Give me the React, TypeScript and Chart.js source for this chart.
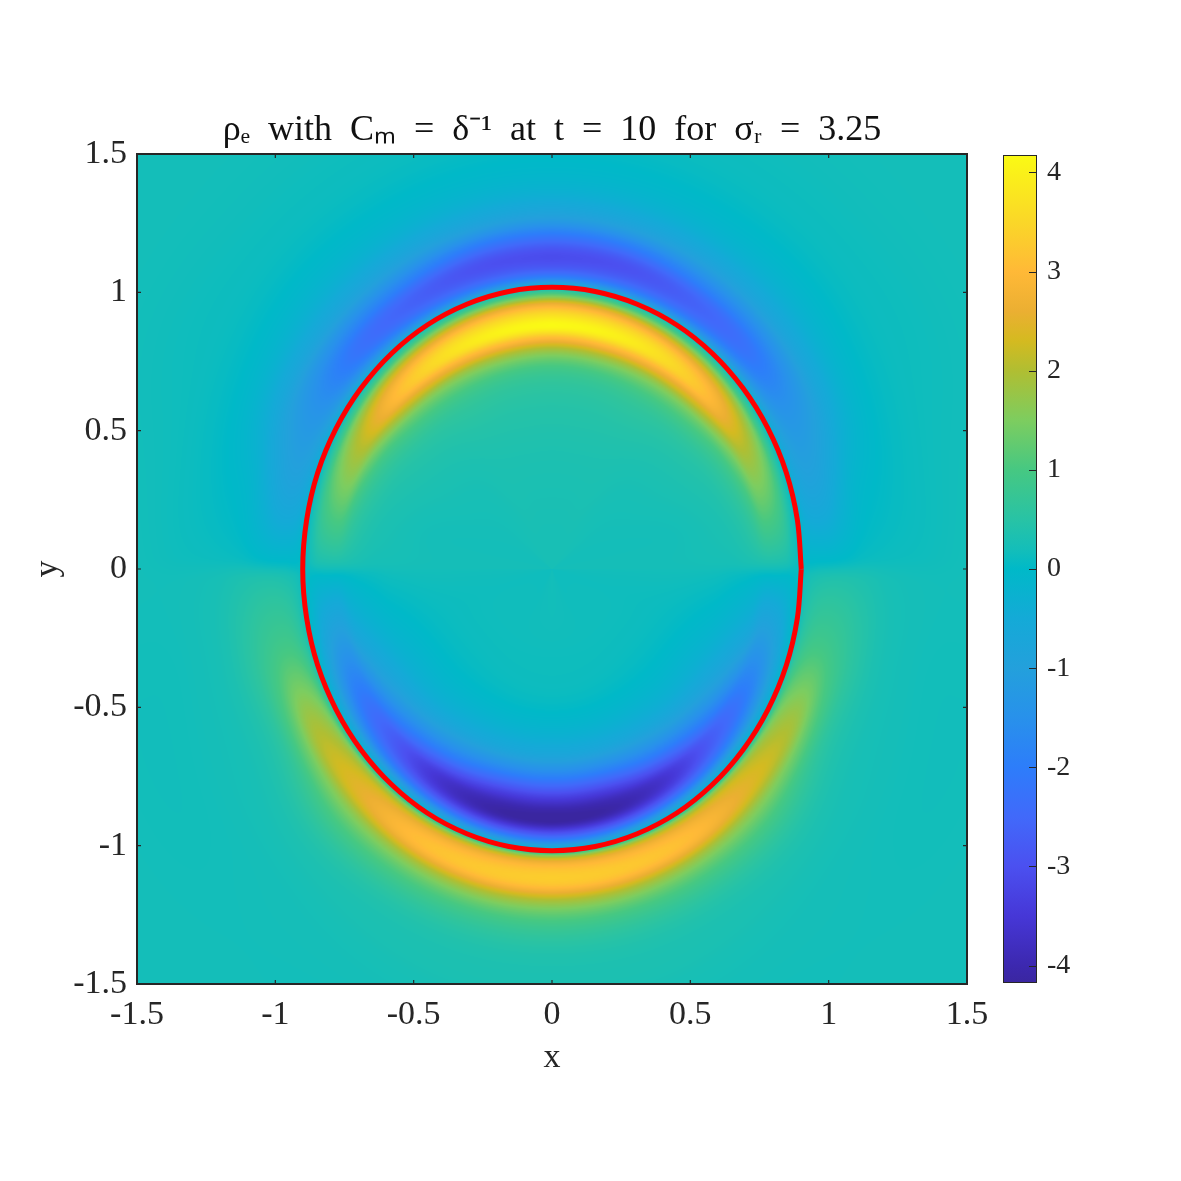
import React, { useEffect, useRef } from "react";
import { Chart, registerables } from "chart.js";

Chart.register(...registerables);

// ---------- data ----------
const titleText = "ρₑ  with  Cₘ  =  δ⁻¹  at  t  =  10  for  σᵣ  =  3.25";
const fieldTicks = [-1.5, -1, -0.5, 0, 0.5, 1, 1.5];
const barTicks = [-4, -3, -2, -1, 0, 1, 2, 3, 4];
const barRange = [-4.175, 4.175];

// interface curve (closed)
const ellipseX = [0.901,0.887,0.847,0.780,0.690,0.579,0.451,0.308,0.156,0,-0.156,-0.308,-0.451,-0.579,-0.690,-0.780,-0.847,-0.887,-0.901,-0.887,-0.847,-0.780,-0.690,-0.579,-0.451,-0.308,-0.156,0,0.156,0.308,0.451,0.579,0.690,0.780,0.847,0.887,0.901];
const ellipseY = [0,0.177,0.348,0.509,0.654,0.780,0.882,0.957,1.003,1.018,1.003,0.957,0.882,0.780,0.654,0.509,0.348,0.177,0,-0.177,-0.348,-0.509,-0.654,-0.780,-0.882,-0.957,-1.003,-1.018,-1.003,-0.957,-0.882,-0.780,-0.654,-0.509,-0.348,-0.177,0];

// field samples: angle from +y (deg, mirrored in x) against radius relative to the interface
const sampleAngle = [0, 15, 30, 45, 60, 75, 88, 92, 105, 120, 135, 150, 165, 180];
const sampleRadius = [0, 0.3, 0.5, 0.65, 0.72, 0.78, 0.82, 0.86, 0.9, 0.94, 0.97, 1.0, 1.03, 1.07, 1.12, 1.18, 1.25, 1.35, 1.5, 1.7, 2.0, 2.4];
const rhoAt0 = [0.25,0.3,0.4,0.6,1.0,1.9,3.0,4.15,3.7,2.7,1.4,0,-1.7,-2.8,-3.05,-2.2,-1.0,-0.25,0.05,0.15,0.2,0.2];
const rhoAt15 = [0.25,0.3,0.4,0.6,1.0,1.9,3.0,4.0,3.6,2.6,1.3,-0.1,-1.7,-2.7,-2.95,-2.1,-0.95,-0.25,0.05,0.15,0.2,0.2];
const rhoAt30 = [0.25,0.3,0.38,0.6,0.95,1.7,2.7,3.6,3.4,2.4,1.2,-0.1,-1.6,-2.5,-2.6,-1.8,-0.9,-0.25,0.05,0.15,0.2,0.2];
const rhoAt45 = [0.25,0.25,0.32,0.5,0.8,1.4,2.2,3.0,2.9,2.1,1.0,-0.1,-1.3,-2.1,-2.2,-1.6,-0.8,-0.25,0.05,0.15,0.2,0.2];
const rhoAt60 = [0.2,0.22,0.28,0.4,0.55,0.9,1.4,2.0,2.0,1.5,0.7,-0.1,-0.9,-1.3,-1.35,-1.1,-0.6,-0.15,0.08,0.15,0.2,0.2];
const rhoAt75 = [0.2,0.2,0.22,0.3,0.38,0.55,0.8,1.2,1.2,0.9,0.4,-0.1,-0.6,-0.8,-0.75,-0.45,-0.15,0,0.12,0.18,0.2,0.2];
const rhoAt88 = [0.22,0.22,0.22,0.24,0.25,0.3,0.35,0.4,0.4,0.35,0.2,0.05,-0.05,-0.05,-0.05,0,0.08,0.12,0.15,0.2,0.2,0.2];
const rhoAt92 = [0.18,0.18,0.18,0.15,0.1,0.05,0,-0.05,-0.05,-0.05,0,0.1,0.25,0.35,0.4,0.4,0.35,0.25,0.2,0.2,0.2,0.2];
const rhoAt105 = [0.15,0.15,0.1,-0.05,-0.2,-0.4,-0.6,-1.0,-1.0,-0.7,-0.3,0.1,0.6,0.9,0.95,0.8,0.55,0.3,0.2,0.18,0.2,0.2];
const rhoAt120 = [0.15,0.15,0.05,-0.25,-0.55,-1.0,-1.5,-2.0,-2.0,-1.4,-0.7,0.1,1.3,1.8,1.85,1.2,0.6,0.32,0.22,0.18,0.2,0.2];
const rhoAt135 = [0.15,0.15,0.03,-0.35,-0.85,-1.6,-2.2,-2.8,-2.7,-2.0,-1.0,0.1,1.8,2.4,2.4,1.6,0.95,0.45,0.25,0.2,0.2,0.2];
const rhoAt150 = [0.15,0.15,0.02,-0.5,-1.2,-2.1,-2.9,-3.6,-3.5,-2.5,-1.3,0.1,2.0,2.9,2.95,1.8,1.0,0.45,0.28,0.2,0.2,0.2];
const rhoAt165 = [0.18,0.15,0.02,-0.6,-1.5,-2.6,-3.4,-4.0,-4.0,-2.8,-1.5,0.15,2.2,3.1,3.15,1.9,1.0,0.45,0.3,0.2,0.2,0.2];
const rhoAt180 = [0.2,0.15,0.02,-0.65,-1.6,-2.7,-3.5,-4.1,-4.15,-2.9,-1.6,0.2,2.3,3.2,3.2,1.9,1.0,0.45,0.3,0.2,0.2,0.2];
const fieldRows = [rhoAt0,rhoAt15,rhoAt30,rhoAt45,rhoAt60,rhoAt75,rhoAt88,rhoAt92,rhoAt105,rhoAt120,rhoAt135,rhoAt150,rhoAt165,rhoAt180];

// colour bar read-off
const colorValues = [-4.175,-4,-3.5,-3,-2.5,-2,-1.5,-1,-0.5,0,0.2,0.5,1,1.5,2,2.3,2.6,3,3.5,4.175];
const colorRGB = [[58,38,160],[60,40,175],[70,55,215],[75,80,240],[65,105,250],[45,125,250],[40,145,235],[35,160,220],[20,170,215],[0,185,200],[20,190,185],[40,195,165],[70,200,130],[125,205,95],[176,190,50],[212,186,32],[235,175,50],[255,185,55],[250,215,40],[250,250,20]];

const INK = "#262626";
const SERIF = "'Liberation Serif', serif";
const PLOT = { left: 137, right: 967, top: 154, bottom: 984 };

function colorAt(v: number): number[] {
  const n = colorValues.length;
  if (v <= colorValues[0]) return colorRGB[0];
  if (v >= colorValues[n - 1]) return colorRGB[n - 1];
  let i = 0;
  while (colorValues[i + 1] < v) i++;
  const t = (v - colorValues[i]) / (colorValues[i + 1] - colorValues[i]);
  return colorRGB[i].map((c, k) => c + (colorRGB[i + 1][k] - c) * t);
}

function segment(xs: number[], x: number): number {
  let i = 0;
  while (i < xs.length - 2 && xs[i + 1] < x) i++;
  return i;
}

function hermite(xs: number[], i: number, x: number, y: (k: number) => number): number {
  const n = xs.length;
  const h = xs[i + 1] - xs[i];
  const t = Math.min(1, Math.max(0, (x - xs[i]) / h));
  const y0 = y(i), y1 = y(i + 1);
  const m0 = i > 0 ? (y1 - y(i - 1)) / (xs[i + 1] - xs[i - 1]) : (y1 - y0) / h;
  const m1 = i < n - 2 ? (y(i + 2) - y0) / (xs[i + 2] - xs[i]) : (y1 - y0) / h;
  const t2 = t * t, t3 = t2 * t;
  return (2 * t3 - 3 * t2 + 1) * y0 + (t3 - 2 * t2 + t) * h * m0 + (-2 * t3 + 3 * t2) * y1 + (t3 - t2) * h * m1;
}

const semiX = Math.max(...ellipseX);
const semiY = Math.max(...ellipseY);

function fieldAt(x: number, y: number): number {
  const u = Math.abs(x) / semiX, w = y / semiY;
  const r = Math.hypot(u, w);
  const ang = (Math.atan2(u, w) * 180) / Math.PI;
  const ri = segment(sampleRadius, r);
  const ai = segment(sampleAngle, ang);
  return hermite(sampleAngle, ai, ang, (k) => hermite(sampleRadius, ri, r, (c) => fieldRows[k][c]));
}

const heatPlugin = {
  id: "heat",
  beforeDatasetsDraw(chart: any) {
    const { left, top, right, bottom } = chart.chartArea;
    const xs = chart.scales.x, ys = chart.scales.y;
    const w = Math.round(right - left), h = Math.round(bottom - top);
    const off = document.createElement("canvas");
    off.width = w; off.height = h;
    const oc = off.getContext("2d")!;
    const img = oc.createImageData(w, h);
    const lut: number[][] = [];
    for (let i = 0; i <= 1000; i++) lut.push(colorAt(barRange[0] + ((barRange[1] - barRange[0]) * i) / 1000));
    for (let j = 0; j < h; j++) {
      const yv = ys.getValueForPixel(top + j + 0.5);
      for (let i = 0; i < w; i++) {
        const xv = xs.getValueForPixel(left + i + 0.5);
        const v = fieldAt(xv, yv);
        const q = Math.max(0, Math.min(1000, Math.round(((v - barRange[0]) / (barRange[1] - barRange[0])) * 1000)));
        const c = lut[q];
        const p = (j * w + i) * 4;
        img.data[p] = c[0]; img.data[p + 1] = c[1]; img.data[p + 2] = c[2]; img.data[p + 3] = 255;
      }
    }
    oc.putImageData(img, 0, 0);
    chart.ctx.drawImage(off, left, top);
  },
};

const framePlugin = {
  id: "frame",
  afterDraw(chart: any) {
    const { left, top, right, bottom } = chart.chartArea;
    const ctx = chart.ctx;
    ctx.save();
    ctx.strokeStyle = INK;
    ctx.lineWidth = 1.2;
    ctx.beginPath();
    chart.scales.x.ticks.forEach((_: any, i: number) => {
      const p = chart.scales.x.getPixelForTick(i);
      ctx.moveTo(p, bottom); ctx.lineTo(p, bottom - 4);
      ctx.moveTo(p, top); ctx.lineTo(p, top + 4);
    });
    chart.scales.y.ticks.forEach((_: any, i: number) => {
      const p = chart.scales.y.getPixelForTick(i);
      ctx.moveTo(left, p); ctx.lineTo(left + 4, p);
      ctx.moveTo(right, p); ctx.lineTo(right - 4, p);
    });
    ctx.stroke();
    ctx.lineWidth = 2;
    ctx.strokeRect(left, top, right - left, bottom - top);
    ctx.restore();
  },
};

const barFramePlugin = {
  id: "barFrame",
  afterDraw(chart: any) {
    const { left, top, right, bottom } = chart.chartArea;
    const ctx = chart.ctx;
    ctx.save();
    ctx.strokeStyle = INK;
    ctx.lineWidth = 1;
    ctx.beginPath();
    chart.scales.y.ticks.forEach((_: any, i: number) => {
      const p = Math.round(chart.scales.y.getPixelForTick(i)) + 0.5;
      ctx.moveTo(right, p); ctx.lineTo(right - 8, p);
    });
    ctx.stroke();
    ctx.strokeRect(left + 0.5, top + 0.5, right - left - 1, bottom - top - 1);
    ctx.restore();
  },
};

export default function App() {
  const mainRef = useRef<HTMLCanvasElement>(null);
  const barRef = useRef<HTMLCanvasElement>(null);

  useEffect(() => {
    const main = new Chart(mainRef.current!, {
      type: "scatter",
      plugins: [heatPlugin, framePlugin],
      data: {
        datasets: [{
          label: "interface",
          data: ellipseX.map((x, i) => ({ x, y: ellipseY[i] })),
          showLine: true,
          tension: 0.33,
          borderColor: "#ff0000",
          borderWidth: 5,
          pointRadius: 0,
          fill: false,
        }],
      },
      options: {
        responsive: false,
        animation: false,
        layout: { padding: { left: 0, right: 1181 - PLOT.right, top: 0, bottom: 0 } },
        plugins: {
          legend: { display: false },
          tooltip: { enabled: false },
          title: {
            display: true,
            fullSize: false,
            text: titleText,
            color: "#111",
            font: { family: SERIF, size: 36, weight: "normal", lineHeight: 1 },
            padding: { top: 113, bottom: 5 },
          },
        },
        scales: {
          x: {
            type: "linear", min: -1.5, max: 1.5,
            afterBuildTicks: (s: any) => { s.ticks = fieldTicks.map((value) => ({ value })); },
            afterFit: (s: any) => { s.height = 1181 - PLOT.bottom; },
            grid: { display: false },
            border: { display: false },
            ticks: { color: INK, padding: 3, maxRotation: 0, autoSkip: false, font: { family: SERIF, size: 34 }, callback: (v: any) => String(v) },
            title: { display: true, text: "x", color: INK, font: { family: SERIF, size: 34 }, padding: { top: 0, bottom: 103 } },
          },
          y: {
            type: "linear", min: -1.5, max: 1.5,
            afterBuildTicks: (s: any) => { s.ticks = fieldTicks.map((value) => ({ value })); },
            afterFit: (s: any) => { s.width = PLOT.left; },
            grid: { display: false },
            border: { display: false },
            ticks: { color: INK, padding: 2, autoSkip: false, font: { family: SERIF, size: 34 }, callback: (v: any) => String(v) },
            title: { display: true, text: "y", color: INK, font: { family: SERIF, size: 34 }, padding: { top: 28, bottom: 0 } },
          },
        },
      },
    } as any);

    const bar = new Chart(barRef.current!, {
      type: "bar",
      plugins: [barFramePlugin],
      data: {
        labels: ["rho"],
        datasets: [{
          label: "colour bar",
          data: [barRange as any],
          barPercentage: 1,
          categoryPercentage: 1,
          backgroundColor: (ctx: any) => {
            const y = ctx.chart.scales.y;
            const y0 = y ? y.getPixelForValue(barRange[0]) : NaN;
            const y1 = y ? y.getPixelForValue(barRange[1]) : NaN;
            if (!Number.isFinite(y0) || !Number.isFinite(y1)) return "#000";
            const g = ctx.chart.ctx.createLinearGradient(0, y0, 0, y1);
            colorValues.forEach((v, i) => {
              g.addColorStop((v - barRange[0]) / (barRange[1] - barRange[0]), `rgb(${colorRGB[i].join(",")})`);
            });
            return g;
          },
        }],
      },
      options: {
        responsive: false,
        animation: false,
        layout: { padding: { left: 13, right: 0, top: 155, bottom: 1181 - 983 } },
        plugins: { legend: { display: false }, tooltip: { enabled: false } },
        scales: {
          x: { display: false },
          y: {
            position: "right",
            min: barRange[0], max: barRange[1],
            afterBuildTicks: (s: any) => { s.ticks = barTicks.map((value) => ({ value })); },
            afterFit: (s: any) => { s.width = 53; },
            grid: { display: false },
            border: { display: false },
            ticks: { color: INK, padding: 2, autoSkip: false, font: { family: SERIF, size: 28 }, callback: (v: any) => String(v) },
          },
        },
      },
    } as any);

    return () => { main.destroy(); bar.destroy(); };
  }, []);

  return (
    <div style={{ position: "absolute", left: 0, top: 0, width: 1181, height: 1181, background: "#fff" }}>
      <canvas ref={mainRef} width={1181} height={1181} style={{ position: "absolute", left: 0, top: 0 }} />
      <canvas ref={barRef} width={100} height={1181} style={{ position: "absolute", left: 990, top: 0 }} />
    </div>
  );
}
